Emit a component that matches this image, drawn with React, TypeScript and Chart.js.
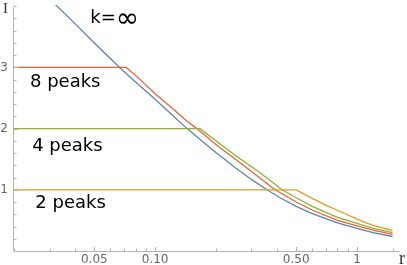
import React, { useEffect, useRef } from "react";
import { Chart, registerables } from "chart.js";

Chart.register(...registerables);

// ---- data ----
const rBlue = [0.03, 0.032, 0.04, 0.05, 0.0671, 0.08, 0.1, 0.12, 0.144, 0.17, 0.2, 0.25, 0.3, 0.358, 0.416, 0.5, 0.6, 0.7, 0.8, 1.0, 1.2, 1.5];
const iBlue = [4.12, 4.03, 3.72, 3.4, 2.99, 2.76, 2.48, 2.24, 2.0, 1.8, 1.61, 1.36, 1.17, 1.0, 0.87, 0.73, 0.61, 0.53, 0.46, 0.37, 0.3, 0.237];

const rPeaks8 = [0.02, 0.0718, 0.08, 0.1, 0.12, 0.144, 0.161, 0.2, 0.25, 0.3, 0.393, 0.5, 0.6, 0.8, 1.0, 1.2, 1.5];
const iPeaks8 = [3, 3, 2.87, 2.57, 2.35, 2.12, 2.0, 1.74, 1.5, 1.3, 1.0, 0.8, 0.67, 0.5, 0.41, 0.34, 0.27];

const rPeaks4 = [0.02, 0.167, 0.2, 0.25, 0.331, 0.426, 0.5, 0.6, 0.8, 1.0, 1.2, 1.5];
const iPeaks4 = [2, 2, 1.8, 1.56, 1.28, 1.0, 0.87, 0.73, 0.55, 0.45, 0.37, 0.3];

const rPeaks2 = [0.02, 0.5, 0.6, 0.7, 0.824, 1.07, 1.2, 1.5];
const iPeaks2 = [1, 1, 0.86, 0.75, 0.645, 0.48, 0.42, 0.335];

const xTickValues = [0.02, 0.03, 0.04, 0.05, 0.06, 0.07, 0.08, 0.09, 0.1, 0.2, 0.3, 0.4, 0.5, 0.6, 0.7, 0.8, 0.9, 1, 1.5];
const xTickLabels: Record<string, string> = { "0.05": "0.05", "0.1": "0.10", "0.5": "0.50", "1": "1" };
const yTickValues = [0.2, 0.4, 0.6, 0.8, 1, 1.2, 1.4, 1.6, 1.8, 2, 2.2, 2.4, 2.6, 2.8, 3, 3.2, 3.4, 3.6, 3.8, 4];
const yTickLabels = [1, 2, 3];

const kLabel = { prefix: "k=", symbol: "\u221E", r: 0.0477, i: 3.8 };
const peakLabels = [
  { text: "8 peaks", r: 0.024, i: 2.75 },
  { text: "4 peaks", r: 0.0246, i: 1.71 },
  { text: "2 peaks", r: 0.0255, i: 0.78 },
];

const COLORS = { blue: "#5E81B5", red: "#EB6235", green: "#8FB032", orange: "#E19C24" };
const AXIS = "#b3b3b3";

const toPts = (rs: number[], is: number[]) => rs.map((r, k) => ({ x: r, y: is[k] }));

const overlay = {
  id: "overlay",
  afterDraw(chart: any) {
    const { ctx, chartArea, scales } = chart;
    const x = scales.x;
    const y = scales.y;
    ctx.save();
    // axes lines
    ctx.strokeStyle = AXIS;
    ctx.lineWidth = 1;
    ctx.beginPath();
    ctx.moveTo(chartArea.left, Math.round(chartArea.bottom) + 0.5);
    ctx.lineTo(chartArea.right, Math.round(chartArea.bottom) + 0.5);
    ctx.moveTo(Math.round(chartArea.left) - 0.5, chartArea.bottom);
    ctx.lineTo(Math.round(chartArea.left) - 0.5, chartArea.top + 2);
    ctx.stroke();
    // inward ticks
    ctx.beginPath();
    xTickValues.forEach((v) => {
      const px = Math.round(x.getPixelForValue(v)) + 0.5;
      const len = xTickLabels[String(v)] ? 4 : 2.5;
      ctx.moveTo(px, chartArea.bottom);
      ctx.lineTo(px, chartArea.bottom - len);
    });
    yTickValues.forEach((v) => {
      const py = Math.round(y.getPixelForValue(v)) + 0.5;
      const len = yTickLabels.includes(v) ? 4 : 2.5;
      ctx.moveTo(chartArea.left, py);
      ctx.lineTo(chartArea.left + len, py);
    });
    ctx.stroke();
    // annotations
    ctx.fillStyle = "#000";
    ctx.textBaseline = "middle";
    ctx.textAlign = "left";
    ctx.font = "18px 'DejaVu Sans'";
    peakLabels.forEach((a) => {
      ctx.fillText(a.text, x.getPixelForValue(a.r), y.getPixelForValue(a.i));
    });
    const kx = x.getPixelForValue(kLabel.r);
    const ky = y.getPixelForValue(kLabel.i);
    ctx.fillText(kLabel.prefix, kx, ky);
    const w = ctx.measureText(kLabel.prefix).width;
    ctx.font = "28px 'DejaVu Sans'";
    ctx.fillText(kLabel.symbol, kx + w, ky + 1);
    // axis titles
    ctx.fillStyle = "#333";
    ctx.font = "15px 'Liberation Serif'";
    ctx.textBaseline = "alphabetic";
    ctx.fillText("I", chartArea.left - 11, chartArea.top + 8);
    ctx.font = "18px 'Liberation Serif'";
    ctx.fillText("r", chartArea.right - 1, chartArea.bottom + 13);
    ctx.restore();
  },
};

export default function App() {
  const ref = useRef<HTMLCanvasElement | null>(null);
  useEffect(() => {
    if (!ref.current) return;
    const ds = (label: string, pts: any, color: string) => ({
      label,
      data: pts,
      borderColor: color,
      backgroundColor: color,
      borderWidth: 1.3,
      pointRadius: 0,
      tension: 0,
      fill: false,
    });
    const chart = new Chart(ref.current, {
      type: "line",
      data: {
        datasets: [
          ds("2 peaks", toPts(rPeaks2, iPeaks2), COLORS.orange),
          ds("4 peaks", toPts(rPeaks4, iPeaks4), COLORS.green),
          ds("8 peaks", toPts(rPeaks8, iPeaks8), COLORS.red),
          ds("k=\u221E", toPts(rBlue, iBlue), COLORS.blue),
        ],
      },
      options: {
        responsive: false,
        animation: false,
        layout: { padding: { top: 5, right: 7, left: 0, bottom: 0 } },
        plugins: { legend: { display: false }, tooltip: { enabled: false } },
        scales: {
          x: {
            type: "logarithmic",
            min: 0.02,
            max: 1.633,
            grid: { display: false, drawTicks: false },
            border: { display: false },
            afterBuildTicks: (scale: any) => {
              scale.ticks = xTickValues.map((v) => ({ value: v }));
            },
            afterFit: (scale: any) => {
              scale.height = 14;
            },
            ticks: {
              autoSkip: false,
              maxRotation: 0,
              padding: 2,
              color: "#666",
              font: { family: "DejaVu Sans", size: 12 },
              callback: (v: any) => xTickLabels[String(v)] ?? "",
            },
          },
          y: {
            type: "linear",
            min: 0,
            max: 4.02,
            grid: { display: false, drawTicks: false },
            border: { display: false },
            afterBuildTicks: (scale: any) => {
              scale.ticks = yTickLabels.map((v) => ({ value: v }));
            },
            afterFit: (scale: any) => {
              scale.width = 14;
              scale.paddingTop = 0;
              scale.paddingBottom = 0;
            },
            ticks: {
              padding: 6,
              color: "#666",
              font: { family: "DejaVu Sans", size: 12 },
              callback: (v: any) => String(v),
            },
          },
        },
      },
      plugins: [overlay],
    });
    return () => chart.destroy();
  }, []);
  return (
    <div style={{ position: "absolute", left: 0, top: 0, width: 407, height: 265 }}>
      <canvas ref={ref} width={407} height={265} style={{ width: 407, height: 265 }} />
    </div>
  );
}
